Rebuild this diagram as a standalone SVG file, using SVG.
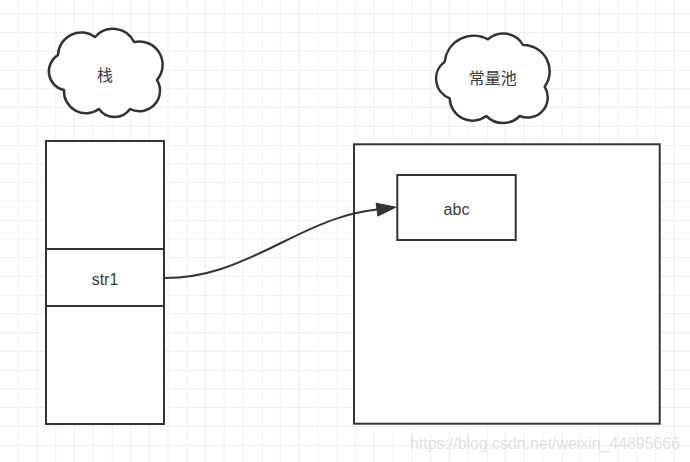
<svg xmlns="http://www.w3.org/2000/svg" width="690" height="462" viewBox="0 0 690 462">
  <defs>
    <pattern id="grid" patternUnits="userSpaceOnUse" x="-38.3" y="-5" width="75" height="75">
      <g stroke="#efefef" stroke-width="1">
        <line x1="18.75" y1="0" x2="18.75" y2="75"/>
        <line x1="37.5" y1="0" x2="37.5" y2="75"/>
        <line x1="56.25" y1="0" x2="56.25" y2="75"/>
        <line x1="0" y1="18.75" x2="75" y2="18.75"/>
        <line x1="0" y1="37.5" x2="75" y2="37.5"/>
        <line x1="0" y1="56.25" x2="75" y2="56.25"/>
      </g>
      <g stroke="#e3e3e3" stroke-width="1">
        <line x1="0" y1="0" x2="0" y2="75"/>
        <line x1="0" y1="0" x2="75" y2="0"/>
      </g>
    </pattern>
    <marker id="block" viewBox="-1 -8 22 16" refX="0" refY="0" markerWidth="22" markerHeight="16" markerUnits="userSpaceOnUse" orient="auto">
      <path d="M0,-6.5 L19,0 L0,6.5 Z" fill="#333" stroke="#333" stroke-width="1"/>
    </marker>
    <style>
      .shape { fill: #fff; stroke: #333; stroke-width: 2; }
      .cloud { fill: #fff; stroke: #333; stroke-width: 2.5; stroke-linejoin: round; }
      .label { font-family: "Liberation Sans", "Noto Sans CJK SC", sans-serif; font-size: 16px; fill: #3a3a3a; text-anchor: middle; }
      .edge { fill: none; stroke: #333; stroke-width: 2; }
      .wm { font-family: "Liberation Sans", "Noto Sans", sans-serif; font-size: 16px; fill: #d6d6d6; fill-opacity: 0.75; }
    </style>
  </defs>

  <rect x="0" y="0" width="690" height="462" fill="#fff"/>
  <rect x="0" y="0" width="690" height="462" fill="url(#grid)"/>

  <g id="cloud-stack">
    <path class="cloud" d="M58,55 A23.2,23.2 0 0 1 95,37 A23.6,23.6 0 0 1 134,42 A23.4,23.4 0 0 1 157,80 A20.6,20.6 0 0 1 130,109 A19,19 0 0 1 99,109 A22,22 0 0 1 64,90 A19.1,19.1 0 0 1 58,55 Z"/>
    <text class="label" x="105" y="80.5">栈</text>
  </g>

  <g id="cloud-pool">
    <path class="cloud" d="M444.7,61.7 A29.3,29.3 0 0 1 488,39.3 A22.8,22.8 0 0 1 523,45 A26.3,26.3 0 0 1 544.7,86.7 A20.2,20.2 0 0 1 519.7,116 A23.4,23.4 0 0 1 486.3,116 A22.8,22.8 0 0 1 449.7,98.3 A21,21 0 0 1 444.7,61.7 Z"/>
    <text class="label" x="492.7" y="83.5">常量池</text>
  </g>

  <g id="stack">
    <rect class="shape" x="46" y="141" width="118" height="283"/>
    <line class="shape" x1="46" y1="249" x2="164" y2="249"/>
    <line class="shape" x1="46" y1="306" x2="164" y2="306"/>
  </g>

  <g id="str1">
    <text class="label" x="105" y="285">str1</text>
  </g>

  <g id="pool">
    <rect class="shape" x="354" y="144.3" width="305.7" height="279.4"/>
  </g>

  <g id="abc">
    <rect class="shape" x="397.3" y="175" width="118.4" height="65"/>
    <text class="label" x="456.5" y="215">abc</text>
  </g>

  <g id="connectors">
    <path class="edge" d="M165,278 C205,278 235,266 283,242 S350,213 377,209.6" marker-end="url(#block)"/>
  </g>

  <text class="wm" x="410" y="449" textLength="270" lengthAdjust="spacingAndGlyphs">https://blog.csdn.net/weixin_44895666</text>
</svg>
